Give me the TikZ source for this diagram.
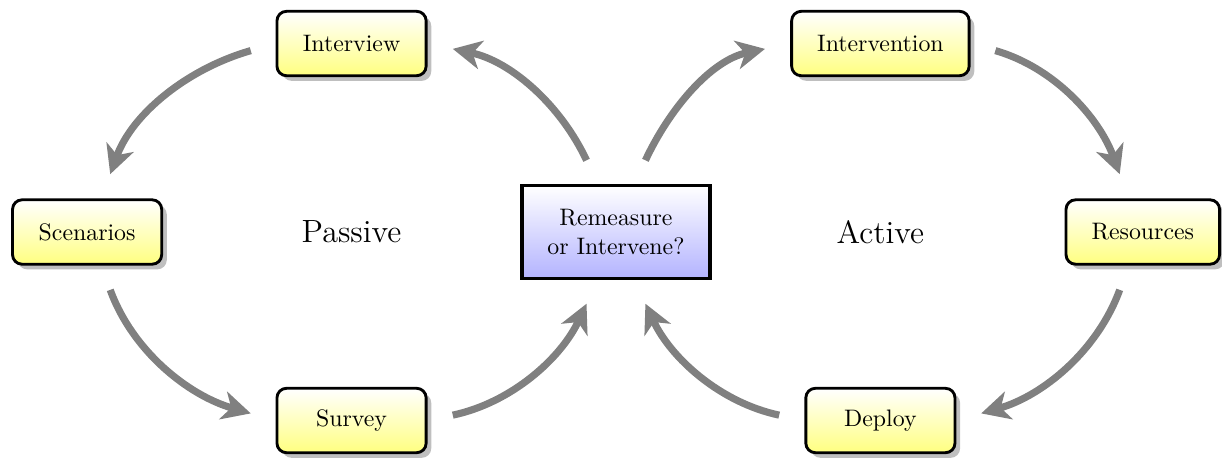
\documentclass[tikz,border=0pt]{standalone}
\usepackage{tikz}
\usetikzlibrary{arrows.meta,shadows}
\definecolor{stageyellow}{HTML}{FFFF80}
\definecolor{decideblue}{HTML}{B3B3FF}
\definecolor{flowgray}{HTML}{808080}

\begin{document}
\begin{tikzpicture}[
  stage/.style={draw,very thick,rounded corners=4pt,top color=white,bottom color=stageyellow,drop shadow,minimum width=2.2cm,minimum height=0.95cm,inner xsep=10.7pt},
  decide/.style={draw,line width=1.6pt,top color=white,bottom color=decideblue,minimum height=1.37cm,inner xsep=10.7pt,align=center},
  flow/.style={-{Stealth[length=12pt,width=12pt,inset=3.5pt]},line width=3pt,flowgray,shorten <=0.38cm,shorten >=0.38cm},
  mode/.style={font=\fontsize{13.5}{16}\selectfont}
]
  \useasboundingbox (-9.085,-3.363) rectangle (8.938,3.422);
  \node[decide] (choice) at (0,0) {Remeasure\\or Intervene?};
  \node[stage] (interview) at (-3.9,2.78) {Interview};
  \node[stage] (scenarios) at (-7.8,0) {Scenarios};
  \node[stage] (survey) at (-3.9,-2.78) {Survey};
  \node[stage] (intervention) at (3.9,2.78) {Intervention};
  \node[stage] (resources) at (7.77,0) {Resources};
  \node[stage] (deploy) at (3.9,-2.78) {Deploy};
  \node[mode] (passive) at (-3.9,0) {Passive};
  \node[mode] (active) at (3.9,0) {Active};

  % passive loop
  \draw[flow] (choice.111) to[out=115,in=348] (interview.east);
  \draw[flow] (interview.west) to[out=196,in=70] (scenarios.67);
  \draw[flow] (scenarios.-67) to[out=-70,in=164] (survey.west);
  \draw[flow] (survey.east) to[out=12,in=245] (choice.-111);
  % active loop
  \draw[flow] (choice.69) to[out=65,in=192] (intervention.west);
  \draw[flow] (intervention.east) to[out=-16,in=110] (resources.113);
  \draw[flow] (resources.-113) to[out=-110,in=16] (deploy.east);
  \draw[flow] (deploy.west) to[out=168,in=295] (choice.-69);
\end{tikzpicture}
\end{document}
